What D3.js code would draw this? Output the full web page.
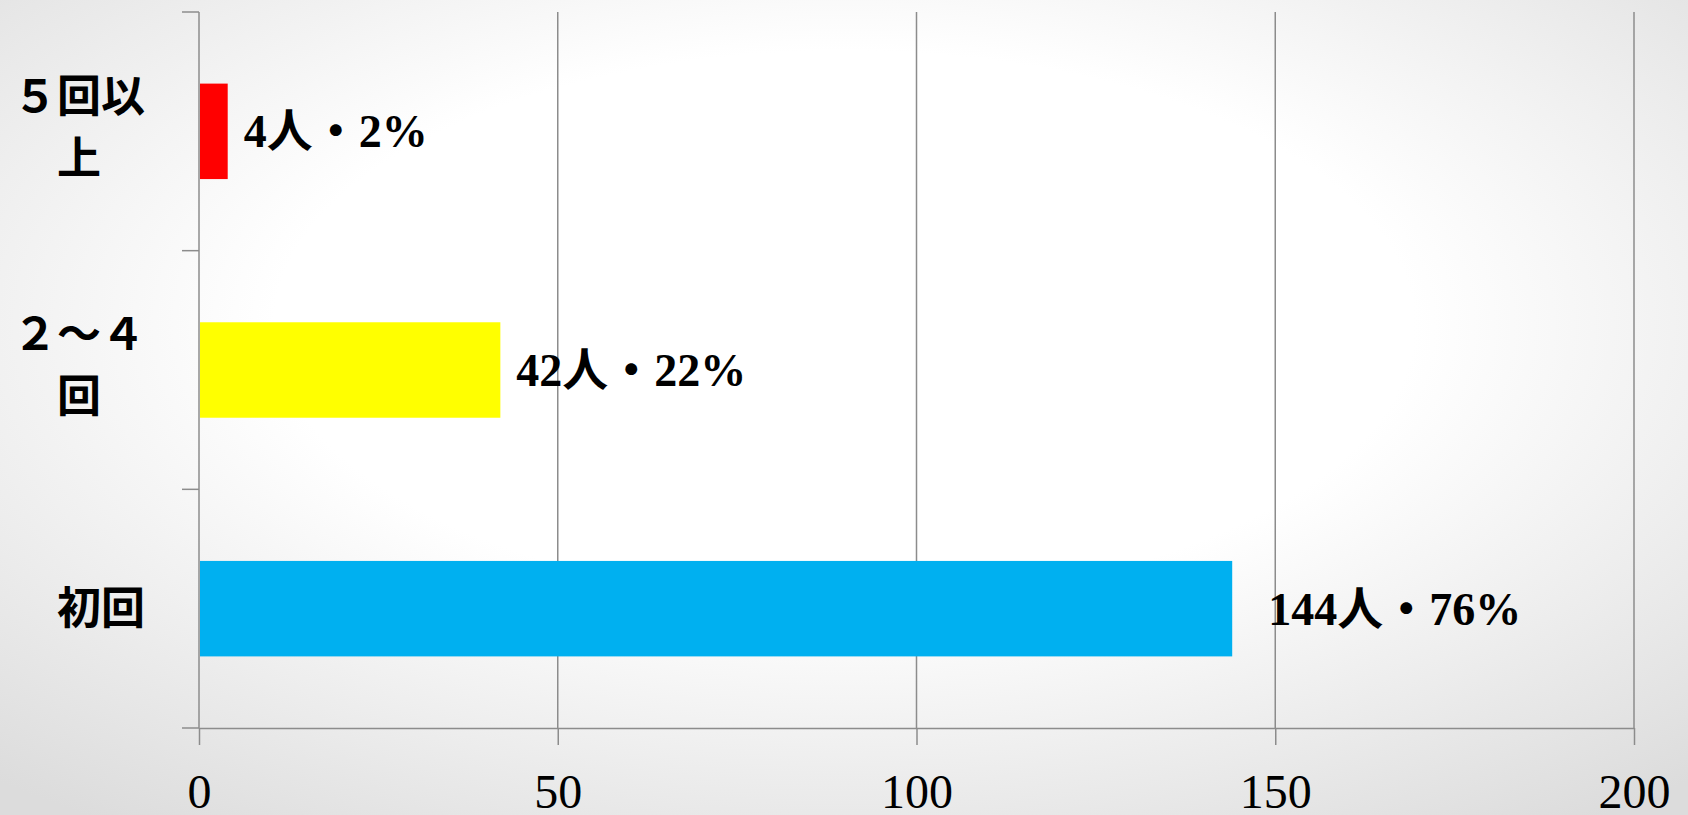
<!DOCTYPE html>
<html>
<head>
<meta charset="utf-8">
<script src="https://cdn.jsdelivr.net/npm/d3@7"></script>
<style>
  html, body { margin: 0; padding: 0; overflow: hidden; }
  svg { display: block; }
</style>
</head>
<body>
<div id="chart"></div>
<script>
// Chart data
const categories = ['５回以上', '２～４回', '初回'];
const counts = [4, 42, 144];
const percents = [2, 22, 76];
const barColors = ['#ff0000', '#ffff00', '#00b0f0'];
const xTicks = [0, 50, 100, 150, 200];

const width = 1688;
const height = 815;
const fontFamily = '"Liberation Serif", "Noto Sans CJK JP", serif';

const svg = d3.select('#chart')
    .append('svg')
    .attr('width', width)
    .attr('height', height);

// Background gradient
const grad = svg.append('defs').append('radialGradient')
    .attr('id', 'bg')
    .attr('cx', '50%').attr('cy', '40%').attr('r', '75%');
grad.append('stop').attr('offset', '0%').attr('stop-color', '#ffffff');
grad.append('stop').attr('offset', '45%').attr('stop-color', '#ffffff');
grad.append('stop').attr('offset', '100%').attr('stop-color', '#dcdcdc');

svg.append('rect')
    .attr('width', width)
    .attr('height', height)
    .attr('fill', 'url(#bg)');

const x = d3.scaleLinear().domain([0, 200]).range([199, 1634]);
const y = d3.scaleBand().domain(categories).range([12, 728])
    .paddingInner(0.6).paddingOuter(0.3);

const axisColor = '#8c8c8c';
const plotBottom = y.range()[1];
const plotTop = y.range()[0];

// Vertical gridlines
svg.append('g')
    .selectAll('line')
    .data(xTicks.filter(d => d > 0))
    .join('line')
    .attr('x1', d => x(d)).attr('x2', d => x(d))
    .attr('y1', plotTop).attr('y2', plotBottom)
    .attr('stroke', axisColor)
    .attr('stroke-width', 1.5);

// X axis
const xAxis = svg.append('g')
    .attr('transform', `translate(0,${plotBottom})`)
    .call(d3.axisBottom(x).tickValues(xTicks).tickSize(17).tickSizeOuter(0));
xAxis.select('.domain').attr('stroke', axisColor).attr('stroke-width', 1.5);
xAxis.selectAll('.tick line').attr('stroke', axisColor).attr('stroke-width', 1.5);
xAxis.selectAll('.tick text')
    .attr('y', 80)
    .attr('dy', 0)
    .attr('fill', '#000')
    .style('font-family', fontFamily)
    .style('font-size', '48px');

// Y axis line and band boundary ticks
const gap = (y.step() - y.bandwidth()) / 2;
const boundaries = categories.map(c => y(c) - gap).concat([plotBottom]);
const yAxis = svg.append('g');
yAxis.append('line')
    .attr('x1', x(0)).attr('x2', x(0))
    .attr('y1', plotTop).attr('y2', plotBottom)
    .attr('stroke', axisColor).attr('stroke-width', 1.5);
yAxis.selectAll('line.tick')
    .data(boundaries)
    .join('line')
    .attr('class', 'tick')
    .attr('x1', x(0) - 17).attr('x2', x(0))
    .attr('y1', d => d).attr('y2', d => d)
    .attr('stroke', axisColor).attr('stroke-width', 1.5);

// Bars
svg.append('g')
    .selectAll('rect')
    .data(categories)
    .join('rect')
    .attr('x', x(0) + 1)
    .attr('y', d => y(d))
    .attr('width', (d, i) => x(counts[i]) - x(0) - 1)
    .attr('height', y.bandwidth())
    .attr('fill', (d, i) => barColors[i]);

// Value labels
svg.append('g')
    .selectAll('text')
    .data(categories)
    .join('text')
    .attr('x', (d, i) => x(counts[i]) + (counts[i] > 100 ? 36 : 16))
    .attr('y', d => y(d) + y.bandwidth() / 2)
    .attr('dy', '0.35em')
    .attr('fill', '#000')
    .style('font-family', fontFamily)
    .style('font-weight', 'bold')
    .style('font-size', '46px')
    .text((d, i) => `${counts[i]}人・${percents[i]}%`);

// Category labels, wrapped at 3 characters
const labelRight = 145;
const lineHeight = 62;
const labels = svg.append('g')
    .selectAll('text')
    .data(categories)
    .join('text')
    .attr('fill', '#000')
    .attr('text-anchor', 'middle')
    .style('font-family', fontFamily)
    .style('font-weight', 'bold')
    .style('font-size', '44px');

labels.each(function (d) {
    const text = d3.select(this);
    const lines = [d.slice(0, 3), d.slice(3)].filter(s => s.length);
    const cy = y(d) + y.bandwidth() / 2 - (lines.length > 1 ? 4 : 0);
    const spans = lines.map((line, i) => text.append('tspan')
        .attr('y', cy + (i - (lines.length - 1) / 2) * lineHeight)
        .attr('dy', '0.35em')
        .text(line));
    const widest = d3.max(spans, s => s.node().getComputedTextLength());
    spans.forEach(s => s.attr('x', labelRight - widest / 2));
});
</script>
</body>
</html>
